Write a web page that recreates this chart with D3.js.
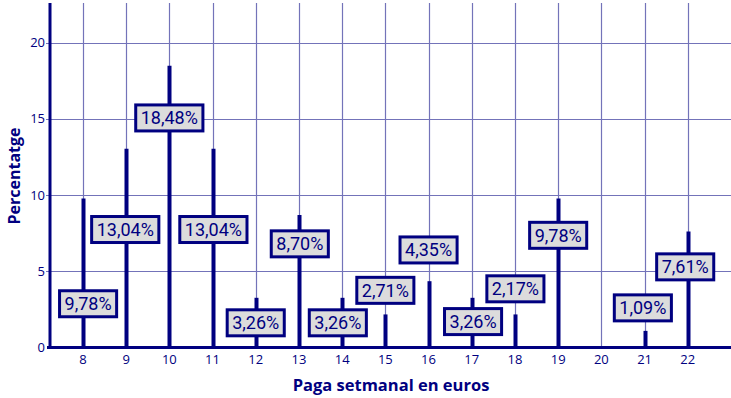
<!DOCTYPE html>
<html>
<head>
<meta charset="utf-8">
<script src="https://cdn.jsdelivr.net/npm/d3@7"></script>
<style>
  body { margin: 0; background: #fff; }
  text { font-family: "Open Sans", sans-serif; fill: #000080; }
</style>
</head>
<body>
<div id="chart"></div>
<script>

// weekly pay (euros) and share of students (%)
var pays     = [8, 9, 10, 11, 12, 13, 14, 15, 16, 17, 18, 19, 20, 21, 22];
var percents = [9.78, 13.04, 18.48, 13.04, 3.26, 8.70, 3.26, 2.17, 4.35, 3.26, 2.17, 9.78, 0, 1.09, 7.61];
var labels   = ["9,78%", "13,04%", "18,48%", "13,04%", "3,26%", "8,70%", "3,26%", "2,71%",
                "4,35%", "3,26%", "2,17%", "9,78%", "", "1,09%", "7,61%"];
// where each label box sits, in data units
var labelX   = [8.12, 8.98, 10, 11.02, 12, 13.02, 13.9, 15, 16, 17.03, 18.01, 19, 20, 20.96, 21.94];
var labelY   = [2.87, 7.74, 15.06, 7.74, 1.62, 6.8, 1.62, 3.75, 6.4, 1.7, 3.85, 7.36, 0, 2.6, 5.29];
var yTicks   = [0, 5, 10, 15, 20];

var width = 731, height = 398;
var navy = "#000080", gridColor = "#7373b9";

var svg = d3.select("#chart")
  .append("svg")
    .attr("width", width)
    .attr("height", height);

var x = d3.scaleLinear()
  .domain([7.25, 23])
  .range([50.5, 731]);

var y = d3.scaleLinear()
  .domain([0, 22.6])
  .range([347.5, 3]);

// grid
svg.append("g")
  .selectAll("line")
  .data(pays)
  .enter().append("line")
    .attr("x1", function(d) { return Math.round(x(d)) + 0.5; })
    .attr("x2", function(d) { return Math.round(x(d)) + 0.5; })
    .attr("y1", y(0))
    .attr("y2", y(22.6))
    .attr("stroke", gridColor)
    .attr("stroke-width", 1.2);

svg.append("g")
  .selectAll("line")
  .data(yTicks.slice(1))
  .enter().append("line")
    .attr("x1", 46)
    .attr("x2", width)
    .attr("y1", function(d) { return Math.round(y(d)) + 0.5; })
    .attr("y2", function(d) { return Math.round(y(d)) + 0.5; })
    .attr("stroke", gridColor)
    .attr("stroke-width", 1.2);

// bars (thick sticks)
svg.append("g")
  .selectAll("line")
  .data(pays)
  .enter().append("line")
    .attr("x1", function(d) { return Math.round(x(d)) + 0.5; })
    .attr("x2", function(d) { return Math.round(x(d)) + 0.5; })
    .attr("y1", y(0))
    .attr("y2", function(d, i) { return y(percents[i]); })
    .attr("stroke", navy)
    .attr("stroke-width", function(d, i) { return percents[i] > 0 ? 4 : 0; });

// label boxes
var lab = svg.append("g")
  .selectAll("g")
  .data(pays.filter(function(d, i) { return labels[i] !== ""; }))
  .enter().append("g")
    .attr("transform", function(d) {
      var i = pays.indexOf(d);
      return "translate(" + x(labelX[i]) + "," + y(labelY[i]) + ")";
    });

lab.append("text")
  .attr("text-anchor", "middle")
  .attr("dy", "0.36em")
  .style("font-family", "Roboto, sans-serif")
  .style("font-size", "18px")
  .text(function(d) { return labels[pays.indexOf(d)]; });

lab.each(function() {
  var g = d3.select(this);
  var bb = g.select("text").node().getBBox();
  g.insert("rect", "text")
    .attr("x", -bb.width / 2 - 5)
    .attr("y", -13)
    .attr("width", bb.width + 10)
    .attr("height", 26)
    .attr("fill", "#dcdcdc")
    .attr("stroke", navy)
    .attr("stroke-width", 3);
});

// axes
svg.append("line")
  .attr("x1", 50).attr("x2", 50)
  .attr("y1", 3).attr("y2", 349)
  .attr("stroke", navy).attr("stroke-width", 3);
svg.append("line")
  .attr("x1", 47).attr("x2", width)
  .attr("y1", 347.5).attr("y2", 347.5)
  .attr("stroke", navy).attr("stroke-width", 3);

svg.append("g")
  .selectAll("text")
  .data(yTicks)
  .enter().append("text")
    .attr("x", 45)
    .attr("y", function(d) { return y(d); })
    .attr("dy", "0.35em")
    .attr("text-anchor", "end")
    .style("font-size", "13px")
    .text(function(d) { return d; });

svg.append("g")
  .selectAll("text")
  .data(pays)
  .enter().append("text")
    .attr("x", function(d) { return x(d); })
    .attr("y", 364)
    .attr("text-anchor", "middle")
    .style("font-size", "13px")
    .text(function(d) { return d; });

// titles
svg.append("text")
  .attr("x", 391)
  .attr("y", 391)
  .attr("text-anchor", "middle")
  .style("font-size", "16.5px")
  .style("font-weight", "bold")
  .text("Paga setmanal en euros");

svg.append("text")
  .attr("transform", "translate(20,176) rotate(-90)")
  .attr("text-anchor", "middle")
  .style("font-size", "16px")
  .style("font-weight", "bold")
  .text("Percentatge");

</script>
</body>
</html>
